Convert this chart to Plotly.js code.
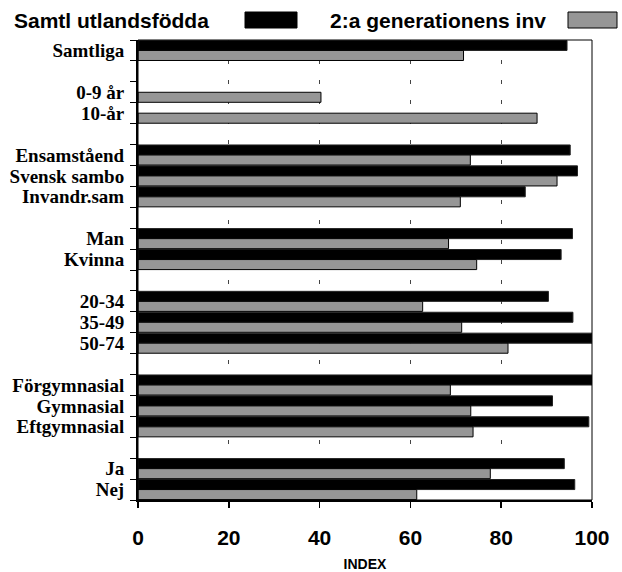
<!DOCTYPE html>
<html>
<head>
<meta charset="utf-8">
<script src="https://cdn.plot.ly/plotly-3.0.1.min.js"></script>
<style>html,body{margin:0;padding:0;background:#fff;}#chart{width:622px;height:572px;}</style>
</head>
<body>
<div id="chart"></div>
<script>
// ---- data ----
const B = k => "\u200b".repeat(k); // blank spacer categories
const categories = ["Samtliga", B(1), "0-9 år", "10-år", B(2),
  "Ensamståend", "Svensk sambo", "Invandr.sam", B(3),
  "Man", "Kvinna", B(4),
  "20-34", "35-49", "50-74", B(5),
  "Förgymnasial", "Gymnasial", "Eftgymnasial", B(6),
  "Ja", "Nej"];
const seriesNames = ["Samtl utlandsfödda", "2:a generationens inv"];
const utlandsfodda = [94.5, null, null, null, null,
  95.2, 96.8, 85.3, null,
  95.7, 93.2, null,
  90.4, 95.8, 100.0, null,
  100.5, 91.3, 99.3, null,
  93.9, 96.2];
const andraGen = [71.7, null, 40.3, 87.9, null,
  73.2, 92.3, 71.0, null,
  68.4, 74.6, null,
  62.7, 71.3, 81.5, null,
  68.8, 73.3, 73.8, null,
  77.6, 61.4];
const xTicks = [0, 20, 40, 60, 80, 100];
const xTitle = "INDEX";

// ---- layout helpers ----
const W = 622, H = 572;
const M = {l: 138, r: 30, t: 40, b: 72};
const pw = W - M.l - M.r, ph = H - M.t - M.b;
const px = x => (x - M.l) / pw;
const py = y => (H - M.b - y) / ph;

const colors = ["#000000", "#969696"];

const traces = [
  {type: "bar", orientation: "h", name: seriesNames[0], y: categories, x: utlandsfodda,
   marker: {color: colors[0], line: {color: "#222", width: 1}}, hoverinfo: "x+y"},
  {type: "bar", orientation: "h", name: seriesNames[1], y: categories, x: andraGen,
   marker: {color: colors[1], line: {color: "#000", width: 1}}, hoverinfo: "x+y"}
];

const layout = {
  width: W, height: H,
  margin: M,
  paper_bgcolor: "#fff", plot_bgcolor: "#fff",
  showlegend: false,
  barmode: "group", bargap: 0.04, bargroupgap: 0,
  xaxis: {
    range: [0, 100], tickmode: "array", tickvals: xTicks, ticktext: xTicks.map(String),
    showgrid: true, gridcolor: "#444", gridwidth: 1, griddash: "4px,16px",
    zeroline: false,
    showline: true, linecolor: "#000", linewidth: 2,
    ticks: "outside", ticklen: 6, tickwidth: 1.5, tickcolor: "#000",
    ticklabelstandoff: 12,
    tickfont: {family: "Liberation Sans, Arial, sans-serif", size: 21, color: "#000", weight: "bold"},
    title: {text: "<b>" + xTitle + "</b>", standoff: 14,
      font: {family: "Liberation Sans, Arial, sans-serif", size: 14, color: "#000"}},
    fixedrange: true
  },
  yaxis: {
    type: "category", categoryorder: "array", categoryarray: categories,
    autorange: "reversed",
    tickmode: "array", tickvals: categories, ticktext: categories,
    showgrid: false, zeroline: false,
    showline: true, linecolor: "#000", linewidth: 2,
    ticks: "outside", ticklen: 6, tickwidth: 1, tickcolor: "#000",
    tickson: "boundaries",
    ticklabelstandoff: 8,
    tickfont: {family: "Liberation Serif, Times New Roman, serif", size: 19, color: "#000", weight: "bold"},
    fixedrange: true
  },
  shapes: [
    {type: "rect", xref: "paper", yref: "paper", x0: 0, x1: 1, y0: 0, y1: 1,
     line: {color: "#000", width: 1}, fillcolor: "rgba(0,0,0,0)", layer: "above"},
    {type: "rect", xref: "paper", yref: "paper", x0: px(245), x1: px(297), y0: py(28), y1: py(12),
     line: {color: "#000", width: 1}, fillcolor: colors[0]},
    {type: "rect", xref: "paper", yref: "paper", x0: px(568), x1: px(617), y0: py(28), y1: py(12),
     line: {color: "#000", width: 1}, fillcolor: colors[1]}
  ],
  annotations: [
    {xref: "paper", yref: "paper", x: px(12), y: py(20), xanchor: "left", yanchor: "middle",
     text: "<b>" + seriesNames[0] + "</b>", showarrow: false,
     font: {family: "Liberation Sans, Arial, sans-serif", size: 21, color: "#000"}},
    {xref: "paper", yref: "paper", x: px(328), y: py(20), xanchor: "left", yanchor: "middle",
     text: "<b>" + seriesNames[1] + "</b>", showarrow: false,
     font: {family: "Liberation Sans, Arial, sans-serif", size: 21, color: "#000"}}
  ]
};

Plotly.newPlot("chart", traces, layout, {displayModeBar: false, staticPlot: true});
</script>
</body>
</html>
